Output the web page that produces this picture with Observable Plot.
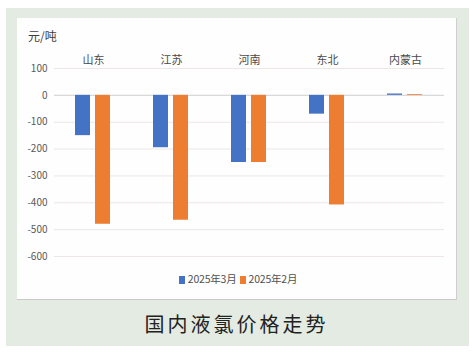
<!DOCTYPE html>
<html><head><meta charset="utf-8">
<script src="https://cdn.jsdelivr.net/npm/d3@7"></script>
<script src="https://cdn.jsdelivr.net/npm/@observablehq/plot@0.6"></script>
<style>
body{margin:0;background:#fff;width:473px;height:354px;position:relative;overflow:hidden;font-family:"Noto Sans CJK SC","Noto Sans",sans-serif;}
#outer{position:absolute;left:6px;top:8px;width:463px;height:338px;background:#e4ebe3;}
#inner{position:absolute;left:17px;top:18px;width:439px;height:281px;background:#fefefe;border-right:1px solid #cfcfcf;border-bottom:1px solid #c9c9c9;}
#unit{position:absolute;left:28px;top:27px;font-size:12px;color:#404040;}
#chart{position:absolute;left:17px;top:18px;}
#legend{position:absolute;left:0;width:473px;top:271px;text-align:center;font-size:10.5px;color:#505050;letter-spacing:-0.2px;}
#legend span.sw{display:inline-block;width:6px;height:8px;margin:0 3px 0 3px;vertical-align:-1px;}
#title{position:absolute;left:0;width:473px;top:309px;text-align:center;font-size:20px;letter-spacing:3px;color:#222;}
</style></head>
<body>
<div id="outer"></div>
<div id="inner"></div>
<div id="unit">元/吨</div>
<div id="chart"></div>
<div id="legend"></div>
<div id="title">国内液氯价格走势</div>
<script>
const regions = ["山东","江苏","河南","东北","内蒙古"];
const seriesNames = ["2025年3月","2025年2月"];
const march = [-150,-195,-250,-70,5];
const february = [-480,-465,-250,-408,3];
const yTicks = [100,0,-100,-200,-300,-400,-500,-600];
const colors = ["#4472c4","#ed7d31"];

const data = [];
regions.forEach((r,i)=>{
  data.push({region:r, month:seriesNames[0], value:march[i]});
  data.push({region:r, month:seriesNames[1], value:february[i]});
});

const plot = Plot.plot({
  width: 440, height: 250,
  marginLeft: 36, marginRight: 12, marginTop: 50, marginBottom: 12,
  style: {fontFamily: '"Noto Sans CJK SC", sans-serif', background: "transparent"},
  fx: {domain: regions, padding: 0, axis: null},
  x: {domain: seriesNames, paddingInner: 0.238, paddingOuter: 0.986, axis: null},
  y: {domain: [-600, 100], axis: null},
  color: {domain: seriesNames, range: colors},
  marks: [
    Plot.gridY(yTicks, {stroke: "#ece6e6", strokeOpacity: 1, strokeWidth: 1}),
    Plot.ruleY([0], {stroke: "#d9d9d9", strokeWidth: 1.2}),
    Plot.axisY({ticks: yTicks, label: null, tickSize: 0, tickPadding: 7, tickFormat: d => String(d), fontSize: 10, fill: "#595959", style:{letterSpacing:"-0.6px"}}),
    Plot.barY(data, {fx: "region", x: "month", y: "value", fill: "month"}),
    Plot.text(regions, {fx: d => d, text: d => d, frameAnchor: "top", dy: -12, fontSize: 11, fill: "#4a4a4a"})
  ]
});
document.getElementById("chart").appendChild(plot);

const lg = document.getElementById("legend");
seriesNames.forEach((s,i)=>{
  const sw = document.createElement("span"); sw.className="sw"; sw.style.background=colors[i];
  lg.appendChild(sw);
  const t = document.createElement("span"); t.textContent = s; lg.appendChild(t);
});
</script>
</body></html>
